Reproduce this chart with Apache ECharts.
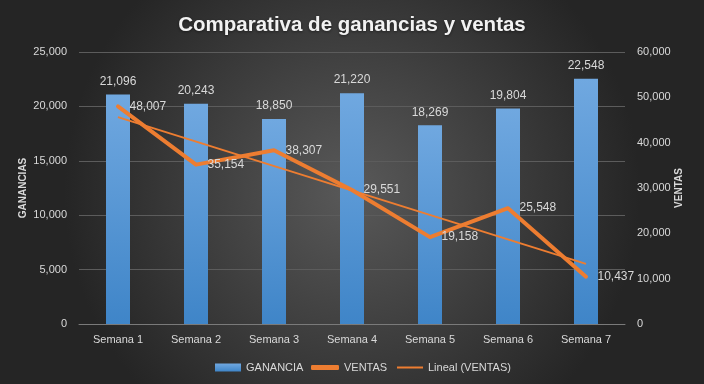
<!DOCTYPE html>
<html><head><meta charset="utf-8">
<script src="https://cdn.jsdelivr.net/npm/echarts@6/dist/echarts.min.js"></script>
<style>html,body{margin:0;padding:0;background:#333}#c{width:704px;height:384px}</style>
</head><body><div id="c"></div>
<script>
const semanas = ['Semana 1','Semana 2','Semana 3','Semana 4','Semana 5','Semana 6','Semana 7'];
const ganancia = [21096, 20243, 18850, 21220, 18269, 19804, 22548];
const ventas = [48007, 35154, 38307, 29551, 19158, 25548, 10437];
const tendencia = [45640, null, null, null, null, null, 13265];
const ticksGanancia = [0, 5000, 10000, 15000, 20000, 25000];
const ticksVentas = [0, 10000, 20000, 30000, 40000, 50000, 60000];

const fmt = v => Number(v).toLocaleString('en-US');
const FONT = 'Liberation Sans';
const TXT = '#d9d9d9';
const ORANGE = '#ED7D31';
const FS = 11;

const chart = echarts.init(document.getElementById('c'), null, {renderer:'canvas'});
chart.setOption({
  backgroundColor: {type:'radial', x:0.5, y:0.5, r:0.75,
    colorStops:[{offset:0,color:'#595959'},{offset:1,color:'#252525'}]},
  animation:false,
  textStyle:{fontFamily:FONT},
  title:{text:'Comparativa de ganancias y ventas', left:'center', top:10,
    textStyle:{color:'#f2f2f2', fontSize:20.5, fontWeight:'bold', fontFamily:FONT,
      textShadowColor:'rgba(0,0,0,0.5)', textShadowBlur:3, textShadowOffsetY:1}},
  legend:[
    {data:[{name:'GANANCIA', icon:'rect'}], left:210, top:357, itemWidth:26, itemHeight:8,
      textStyle:{color:TXT, fontSize:FS}},
    {data:[{name:'VENTAS', icon:'roundRect'}], left:306, top:357, itemWidth:28, itemHeight:5,
      textStyle:{color:TXT, fontSize:FS}},
    {data:[{name:'Lineal (VENTAS)', icon:'rect'}], left:392, top:357, itemWidth:26, itemHeight:2,
      textStyle:{color:TXT, fontSize:FS}}
  ],
  grid:{left:79, right:79, top:52, bottom:60},
  xAxis:{type:'category', data:semanas,
    axisTick:{show:false},
    axisLine:{lineStyle:{color:'#7a7a7a', width:1}},
    axisLabel:{color:TXT, fontSize:FS, margin:10}},
  yAxis:[
    {type:'value', min:ticksGanancia[0], max:ticksGanancia[ticksGanancia.length-1], interval:5000,
      name:'GANANCIAS', nameLocation:'middle', nameRotate:90, nameGap:51, nameMoveOverlap:false,
      nameTextStyle:{color:TXT, fontSize:10, fontWeight:'bold'},
      axisLine:{show:false}, axisTick:{show:false},
      axisLabel:{color:TXT, fontSize:FS, margin:12, formatter:fmt},
      splitLine:{lineStyle:{color:'#5c5c5c', width:1}}},
    {type:'value', min:ticksVentas[0], max:ticksVentas[ticksVentas.length-1], interval:10000,
      name:'VENTAS', nameLocation:'middle', nameRotate:90, nameGap:49, nameMoveOverlap:false,
      nameTextStyle:{color:TXT, fontSize:10, fontWeight:'bold'},
      axisLine:{show:false}, axisTick:{show:false},
      axisLabel:{color:TXT, fontSize:FS, margin:12, formatter:fmt},
      splitLine:{show:false}}
  ],
  series:[
    {name:'GANANCIA', type:'bar', data:ganancia, barWidth:24,
      itemStyle:{color:{type:'linear',x:0,y:0,x2:0,y2:1,
        colorStops:[{offset:0,color:'#70a8e0'},{offset:1,color:'#3f85c8'}]}},
      label:{show:true, position:'top', distance:7, color:TXT, fontSize:FS+1, formatter:p=>fmt(p.value)}},
    {name:'VENTAS', type:'line', yAxisIndex:1, data:ventas,
      symbol:'circle', symbolSize:1, itemStyle:{color:ORANGE},
      lineStyle:{color:ORANGE, width:4, join:'round', cap:'round'},
      label:{show:true, position:'right', distance:11, color:TXT, fontSize:FS+1, formatter:p=>fmt(p.value)}},
    {name:'Lineal (VENTAS)', type:'line', yAxisIndex:1, data:tendencia, connectNulls:true,
      symbol:'none', itemStyle:{color:ORANGE},
      lineStyle:{color:ORANGE, width:2}}
  ]
});
</script></body></html>
